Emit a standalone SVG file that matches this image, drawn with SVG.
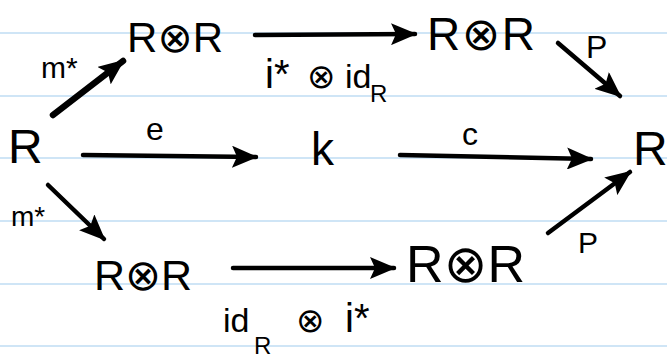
<svg xmlns="http://www.w3.org/2000/svg" width="667" height="360" viewBox="0 0 667 360">
  <defs>
    <style>
      .rule { stroke: #cfe5f6; stroke-width: 2; }
      .obj { font-family: "Liberation Sans", "DejaVu Sans", sans-serif; fill: #000; }
      .lbl { font-family: "Liberation Sans", "DejaVu Sans", sans-serif; fill: #000; }
      .ot { font-family: "DejaVu Sans", sans-serif; }
      .arr { stroke: #000; stroke-width: 4.5; fill: none; stroke-linecap: round; marker-end: url(#head); }
    </style>
    <marker id="head" viewBox="0 0 26 22" refX="24" refY="11" markerWidth="26" markerHeight="22" markerUnits="userSpaceOnUse" orient="auto">
      <path d="M0,0 L26,11 L0,22 L5,11 z" fill="#000"/>
    </marker>
  </defs>

  <rect width="667" height="360" fill="#fff"/>

  <!-- ruled paper -->
  <g id="paper">
    <line class="rule" x1="0" y1="33" x2="667" y2="33"/>
    <line class="rule" x1="0" y1="96" x2="667" y2="96"/>
    <line class="rule" x1="0" y1="158" x2="667" y2="158"/>
    <line class="rule" x1="0" y1="221" x2="667" y2="221"/>
    <line class="rule" x1="0" y1="284" x2="667" y2="284"/>
    <line class="rule" x1="0" y1="346" x2="667" y2="346"/>
  </g>

  <!-- connectors -->
  <g id="connectors">
    <line class="arr" x1="53" y1="115" x2="123" y2="61" style="stroke-width:6.5"/>
    <line class="arr" x1="255" y1="35" x2="415" y2="34"/>
    <line class="arr" x1="558" y1="43" x2="620" y2="96"/>
    <line class="arr" x1="83" y1="155" x2="256" y2="157"/>
    <line class="arr" x1="400" y1="155" x2="591" y2="159"/>
    <line class="arr" x1="48" y1="185" x2="104" y2="239"/>
    <line class="arr" x1="233" y1="268" x2="394" y2="268"/>
    <line class="arr" x1="548" y1="233" x2="630" y2="172"/>
  </g>

  <!-- objects -->
  <g id="node-R-left"><text class="obj" x="8" y="163" font-size="48" textLength="44">R</text></g>
  <g id="node-RR-top-left"><text class="obj" x="127" y="52" font-size="42" textLength="96">R<tspan class="ot">⊗</tspan>R</text></g>
  <g id="node-RR-top-right"><text class="obj" x="427" y="50" font-size="46" textLength="108">R<tspan class="ot">⊗</tspan>R</text></g>
  <g id="node-k"><text class="obj" x="311" y="165" font-size="46">k</text></g>
  <g id="node-R-right"><text class="obj" x="633" y="165" font-size="48">R</text></g>
  <g id="node-RR-bottom-left"><text class="obj" x="94" y="290" font-size="43">R<tspan class="ot">⊗</tspan>R</text></g>
  <g id="node-RR-bottom-right"><text class="obj" x="406" y="282" font-size="52" textLength="119">R<tspan class="ot">⊗</tspan>R</text></g>

  <!-- arrow labels -->
  <g id="labels">
    <text class="lbl" x="41" y="78" font-size="30">m*</text>
    <text class="lbl" x="146" y="140" font-size="32">e</text>
    <text class="lbl" x="462" y="145" font-size="32">c</text>
    <text class="lbl" x="586" y="58" font-size="32">P</text>
    <text class="lbl" y="88" font-size="34"><tspan x="265" font-size="40">i*</tspan><tspan class="ot" x="307">⊗</tspan><tspan x="345">id</tspan><tspan x="370" font-size="24" dy="14">R</tspan></text>
    <text class="lbl" x="11" y="226" font-size="28">m*</text>
    <text class="lbl" x="578" y="253" font-size="30">P</text>
    <text class="lbl" y="332" font-size="34"><tspan x="223">id</tspan><tspan x="254" font-size="24" dy="22">R</tspan><tspan class="ot" x="296" dy="-22">⊗</tspan><tspan x="345" font-size="40">i*</tspan></text>
  </g>
</svg>
